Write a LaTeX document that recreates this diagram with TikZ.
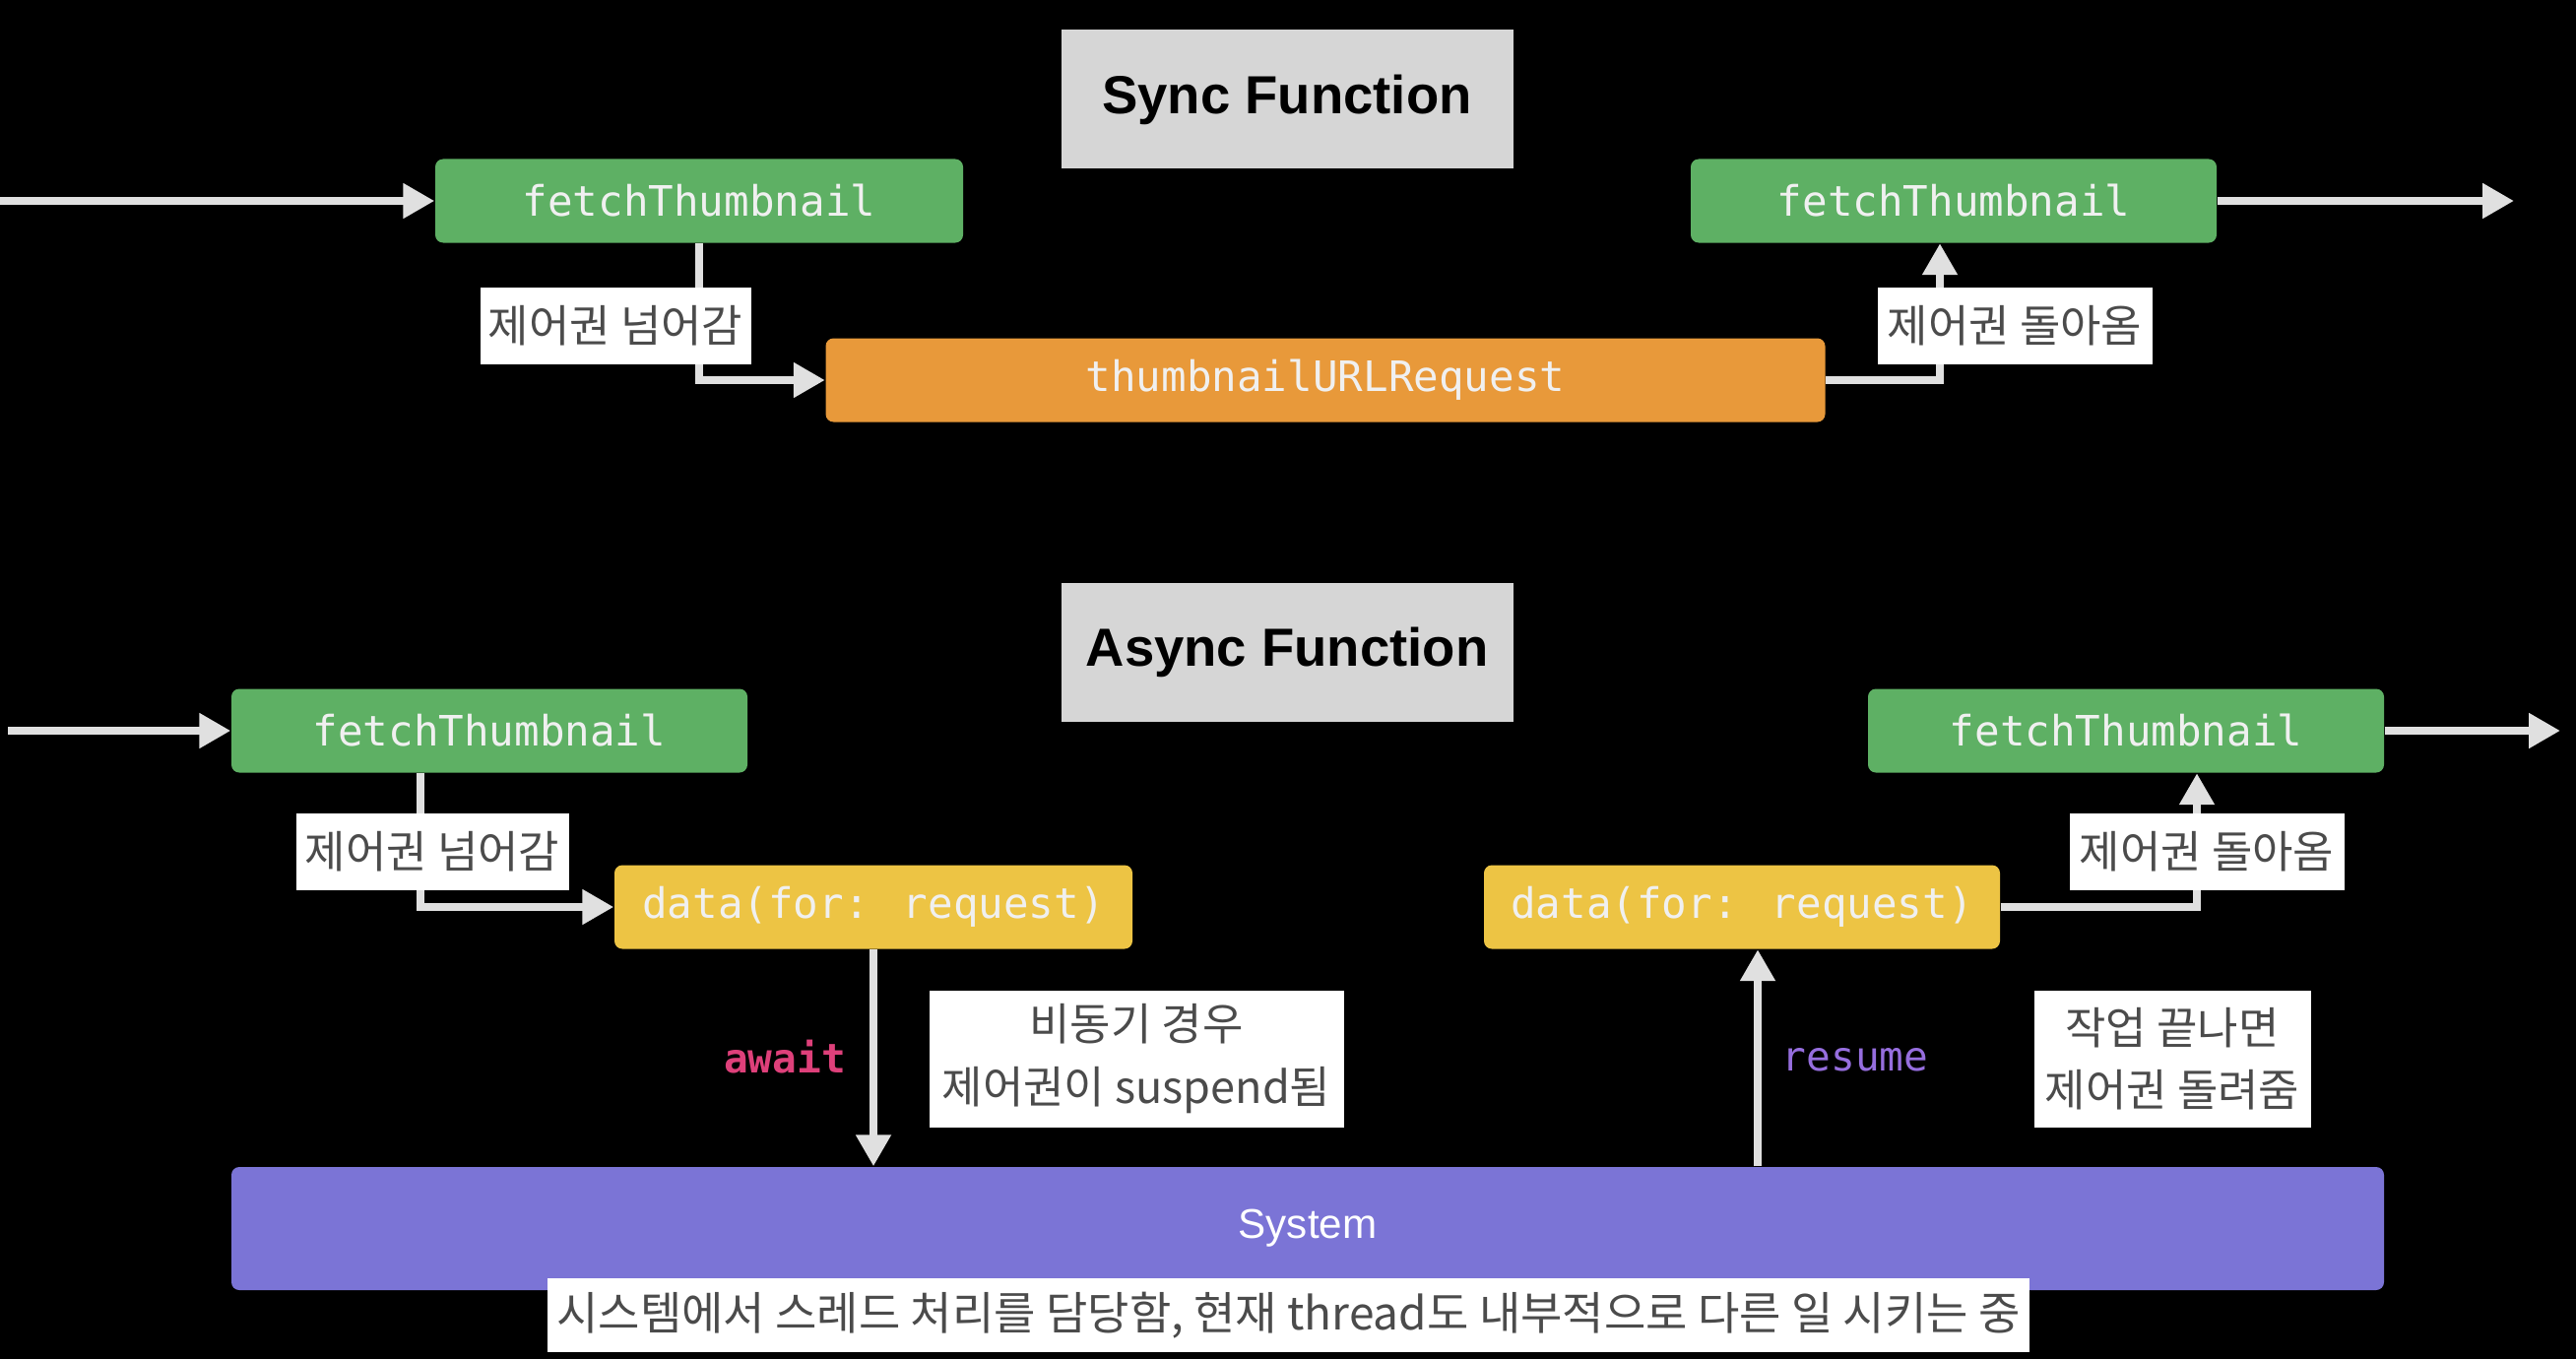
\documentclass[tikz,border=0pt]{standalone}
\usepackage{fontspec}
\setmainfont{Liberation Sans}
\newfontfamily\krfont{Noto Sans CJK KR}
\newfontfamily\codefont{DejaVu Sans Mono}
\usetikzlibrary{arrows.meta}
\definecolor{fngreen}{RGB}{94,176,100}
\definecolor{fnorange}{RGB}{232,153,58}
\definecolor{fnyellow}{RGB}{237,196,68}
\definecolor{syspurple}{RGB}{123,116,214}
\definecolor{titlegray}{RGB}{214,214,214}
\definecolor{flowgray}{RGB}{224,224,224}
\definecolor{notegray}{RGB}{75,75,75}
\definecolor{awaitpink}{RGB}{222,64,122}
\definecolor{resumepurple}{RGB}{150,110,222}

\begin{document}
\begin{tikzpicture}[
    titlebox/.style={fill=titlegray, minimum width=4.59cm, minimum height=1.41cm,
      font=\fontsize{15.5}{18}\selectfont\bfseries},
    callbox/.style={rounded corners=0.08cm, minimum height=0.85cm, text=white!94!black,
      font=\codefont\fontsize{12.1}{14}\selectfont},
    note/.style={fill=white, text=notegray, inner xsep=0.07cm, align=center,
      font=\krfont\fontsize{12.8}{18}\selectfont},
    keyword/.style={font=\codefont\fontsize{11.7}{14}\selectfont\bfseries},
    flow/.style={flowgray, line width=0.08cm, -{Triangle[length=0.32cm, width=0.34cm]}}
  ]
  % Background
  \fill[black] (0,0) rectangle (26.16,-13.80);
  \useasboundingbox (0,0) rectangle (26.16,-13.80);

  % Sync Function
  \node[titlebox] (synctitle) at (13.07,-1.01) {Sync Function};
  \node[callbox, fill=fngreen, minimum width=5.36cm] (syncin) at (7.10,-2.04) {fetchThumbnail};
  \node[callbox, fill=fngreen, minimum width=5.34cm] (syncout) at (19.84,-2.04) {fetchThumbnail};
  \node[callbox, fill=fnorange, minimum width=10.15cm] (urlreq) at (13.46,-3.86) {thumbnailURLRequest};
  \coordinate (syncstart) at (0,-2.04);
  \coordinate (syncend) at (25.53,-2.04);

  \draw[flow] (syncstart) -- (syncin);
  \draw[flow] (syncout) -- (syncend);
  \draw[flow] (syncin.south) |- (urlreq.west);
  \draw[flow] (urlreq.east) -| ([xshift=-0.14cm]syncout.south);

  \node[note, minimum width=2.75cm, minimum height=0.78cm] (synchand) at (6.25,-3.31) {제어권 넘어감};
  \node[note, minimum width=2.79cm, minimum height=0.78cm] (syncback) at (20.46,-3.31) {제어권 돌아옴};

  % Async Function
  \node[titlebox] (asynctitle) at (13.07,-6.62) {Async Function};
  \node[callbox, fill=fngreen, minimum width=5.24cm] (asyncin) at (4.97,-7.42) {fetchThumbnail};
  \node[callbox, fill=fngreen, minimum width=5.24cm] (asyncout) at (21.59,-7.42) {fetchThumbnail};
  \node[callbox, fill=fnyellow, minimum width=5.26cm] (datareq) at (8.87,-9.21) {data(for: request)};
  \node[callbox, fill=fnyellow, minimum width=5.24cm] (databack) at (17.69,-9.21) {data(for: request)};
  \node[rounded corners=0.08cm, fill=syspurple, minimum width=21.86cm, minimum height=1.25cm,
    text=white, font=\fontsize{12}{14}\selectfont] (system) at (13.28,-12.475) {System};
  \coordinate (asyncstart) at (0.08,-7.42);
  \coordinate (asyncend) at (26.00,-7.42);

  \draw[flow] (asyncstart) -- (asyncin);
  \draw[flow] (asyncout) -- (asyncend);
  \draw[flow] ([xshift=-0.70cm]asyncin.south) |- (datareq.west);
  \draw[flow] (databack.east) -| ([xshift=0.72cm]asyncout.south);
  \draw[flow] (datareq.south) -- (datareq.south |- system.north);
  \draw[flow] ([xshift=0.16cm]databack.south |- system.north) -- ([xshift=0.16cm]databack.south);

  \node[keyword, text=awaitpink] (awaitlbl) at (7.97,-10.73) {await};
  \node[keyword, text=resumepurple, font=\codefont\fontsize{11.7}{14}\selectfont] (resumelbl) at (18.84,-10.76) {resume};

  \node[note, minimum width=2.77cm, minimum height=0.78cm] (asynchand) at (4.39,-8.65) {제어권 넘어감};
  \node[note, minimum width=2.79cm, minimum height=0.78cm] (asyncback) at (22.41,-8.65) {제어권 돌아옴};
  \node[note, minimum width=4.21cm, minimum height=1.39cm] (suspendnote) at (11.54,-10.75) {비동기 경우\\제어권이 suspend됨};
  \node[note, minimum width=2.81cm, minimum height=1.39cm] (resumenote) at (22.06,-10.75) {작업 끝나면\\제어권 돌려줌};
  \node[note, minimum width=15.05cm, minimum height=0.75cm, inner xsep=0.04cm,
    font=\krfont\fontsize{13.1}{16}\selectfont] (systemnote) at (13.085,-13.355) {시스템에서 스레드 처리를 담당함, 현재 thread도 내부적으로 다른 일 시키는 중};
\end{tikzpicture}
\end{document}
